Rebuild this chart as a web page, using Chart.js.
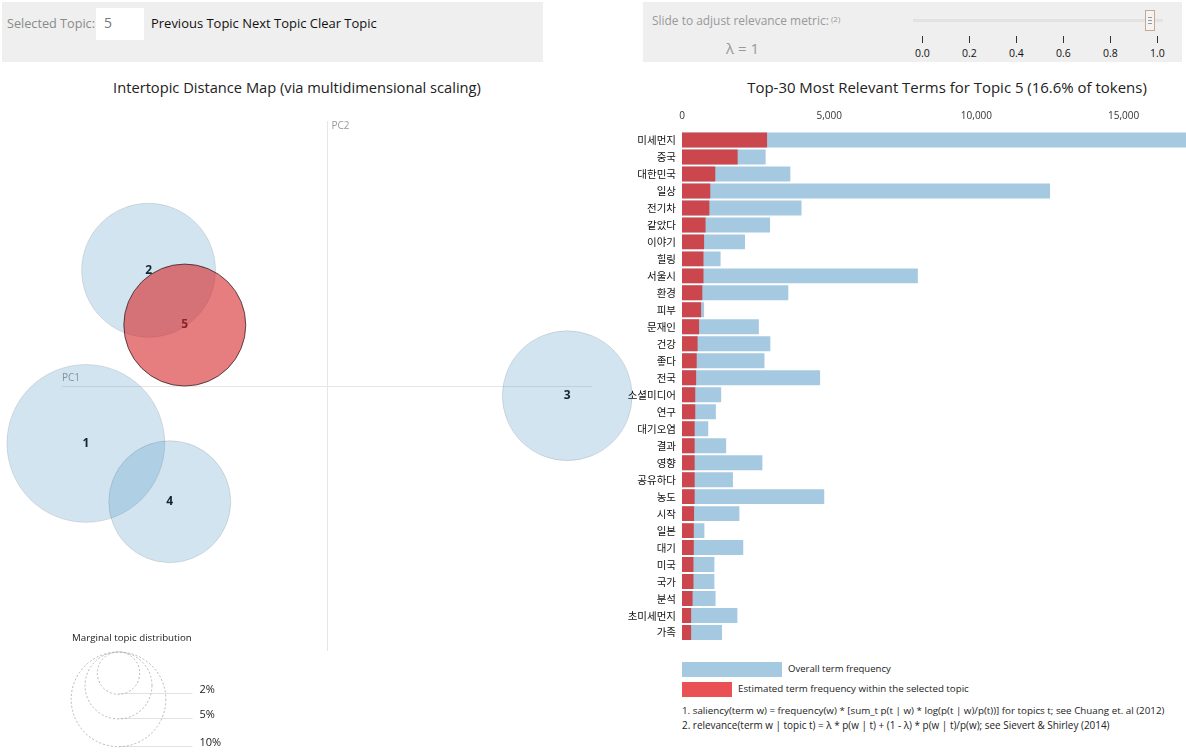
<!DOCTYPE html>
<html>
<head>
<meta charset="utf-8">
<script src="https://cdn.jsdelivr.net/npm/chart.js@4/dist/chart.umd.min.js"></script>
<style>
html,body{margin:0;padding:0;width:1186px;height:752px;overflow:hidden;background:#fff;
  font-family:"Open Sans","Noto Sans CJK KR",sans-serif;}
.abs{position:absolute;white-space:nowrap;}
.panel{background:#efefef;}
.fit{line-height:1;}
</style>
</head>
<body>
<!-- left control panel -->
<div class="abs panel" style="left:2px;top:2px;width:541px;height:60px;"></div>
<div class="abs fit" data-w="88" style="left:7px;top:17px;font-size:13px;color:#8a8a8a;">Selected Topic:</div>
<div class="abs" style="left:96px;top:8px;width:48px;height:32px;background:#fff;"></div>
<div class="abs fit" style="left:104px;top:16px;font-size:14px;color:#777;">5</div>
<div class="abs fit" data-w="226" style="left:151px;top:17px;font-size:13px;color:#111;">Previous Topic Next Topic Clear Topic</div>

<!-- right control panel -->
<div class="abs panel" style="left:643px;top:2px;width:539px;height:60px;"></div>
<div class="abs fit" data-w="177" style="left:652px;top:15px;font-size:13px;color:#999;">Slide to adjust relevance metric:</div>
<div class="abs fit" style="left:831px;top:15px;font-size:8px;color:#999;">(2)</div>
<div class="abs fit" data-w="33" style="left:726px;top:41px;font-size:13px;color:#999;">λ = 1</div>
<div class="abs" style="left:913px;top:19px;width:250px;height:3px;background:#e2e2e2;"></div>
<div class="abs" style="left:1145px;top:10px;width:10px;height:21px;background:#f4f4f4;border:1px solid #c9a98c;box-sizing:border-box;"></div>
<div class="abs" style="left:1148px;top:17px;width:4px;height:1px;background:#999;"></div>
<div class="abs" style="left:1148px;top:20px;width:4px;height:1px;background:#999;"></div>
<div class="abs" style="left:1148px;top:23px;width:4px;height:1px;background:#999;"></div>
<div id="sliderTicks"></div>

<!-- titles -->
<div class="abs fit" id="tLeft" data-w="368" style="top:80px;font-size:15px;color:#222;">Intertopic Distance Map (via multidimensional scaling)</div>
<div class="abs fit" id="tRight" data-w="400" style="top:80px;font-size:15px;color:#222;"></div>

<!-- charts -->
<div class="abs" style="left:0;top:100px;width:680px;height:652px;"><canvas id="mds" width="680" height="652"></canvas></div>
<div class="abs" style="left:596px;top:100px;width:616px;height:541px;"><canvas id="bars" width="616" height="541"></canvas></div>

<div class="abs fit" data-w="120" style="left:72px;top:633px;font-size:11px;color:#222;">Marginal topic distribution</div>

<!-- bar legend -->
<div class="abs" style="left:682px;top:662px;width:100px;height:15px;background:rgba(31,119,180,0.4);"></div>
<div class="abs" style="left:682px;top:682px;width:50px;height:15px;background:rgba(230,50,55,0.85);"></div>
<div class="abs fit" data-w="103" style="left:788px;top:664px;font-size:11px;color:#222;">Overall term frequency</div>
<div class="abs fit" data-w="231" style="left:738px;top:684px;font-size:11px;color:#222;">Estimated term frequency within the selected topic</div>
<div class="abs fit" data-w="483" style="left:682px;top:706px;font-size:10px;color:#222;">1. saliency(term w) = frequency(w) * [sum_t p(t | w) * log(p(t | w)/p(t))] for topics t; see Chuang et. al (2012)</div>
<div class="abs fit" data-w="428" style="left:682px;top:721px;font-size:10px;color:#222;">2. relevance(term w | topic t) = λ * p(w | t) + (1 - λ) * p(w | t)/p(w); see Sievert &amp; Shirley (2014)</div>

<script>
// ---------------- data ----------------
const topicIds = ['1', '2', '3', '4', '5'];
const topicPC1 = [-0.273, -0.202, 0.272, -0.178, -0.161];
const topicPC2 = [-0.065, 0.131, -0.011, -0.131, 0.069];
const topicPct = [27.8, 20.0, 18.8, 16.6, 16.6];
const selectedTopic = '5';
const legendPcts = [2, 5, 10];
const lambdaTicks = ['0.0', '0.2', '0.4', '0.6', '0.8', '1.0'];

const terms = ['미세먼지','중국','대한민국','일상','전기차','같았다','이야기','힐링','서울시','환경',
  '피부','문재인','건강','좋다','전국','소셜미디어','연구','대기오염','결과','영향',
  '공유하다','농도','시작','일본','대기','미국','국가','분석','초미세먼지','가족'];
const overallFreq = [18000, 2840, 3680, 12500, 4060, 2990, 2140, 1310, 8010, 3610,
  750, 2610, 3000, 2800, 4690, 1330, 1150, 890, 1500, 2730,
  1730, 4830, 1950, 760, 2080, 1100, 1100, 1140, 1880, 1360];
const topicFreq = [2890, 1890, 1130, 960, 930, 800, 750, 730, 730, 690,
  650, 580, 530, 500, 480, 450, 450, 430, 430, 430,
  430, 430, 410, 400, 400, 390, 390, 360, 310, 310];
const freqTicks = [0, 5000, 10000, 15000];

// ---------------- text ----------------
document.getElementById('tRight').textContent =
  'Top-30 Most Relevant Terms for Topic ' + selectedTopic + ' (' + topicPct[topicIds.indexOf(selectedTopic)].toFixed(1) + '% of tokens)';

// slider ticks
(function(){
  const host = document.getElementById('sliderTicks');
  lambdaTicks.forEach((t, i) => {
    const x = 922 + i * 47;
    const l = document.createElement('div');
    l.className = 'abs';
    l.style.cssText = `left:${x}px;top:36px;width:1px;height:7px;background:#333;`;
    host.appendChild(l);
    const s = document.createElement('div');
    s.className = 'abs fit';
    s.textContent = t;
    s.style.cssText = `left:${x - 10}px;top:48px;width:21px;text-align:center;font-size:10.5px;color:#111;`;
    host.appendChild(s);
  });
})();

// fit text widths
document.querySelectorAll('[data-w]').forEach(el => {
  const target = +el.dataset.w;
  const w = el.getBoundingClientRect().width;
  const fs = parseFloat(getComputedStyle(el).fontSize);
  if (w > 0) el.style.fontSize = (fs * target / w) + 'px';
});
(function(){
  const a = document.getElementById('tLeft');
  a.style.left = (297 - a.getBoundingClientRect().width / 2) + 'px';
  const b = document.getElementById('tRight');
  b.style.left = (947 - b.getBoundingClientRect().width / 2) + 'px';
})();

// ---------------- MDS chart ----------------
const K = 14.97; // radius scale: px per sqrt(percent)
const blueFill = 'rgba(31,119,180,0.2)';
const redFill = 'rgba(214,39,40,0.6)';

const mdsPlugin = {
  id: 'mdsDeco',
  beforeDatasetsDraw(chart) {
    const {ctx, scales: {x, y}, chartArea} = chart;
    ctx.save();
    ctx.strokeStyle = '#e6e6e6';
    ctx.lineWidth = 1;
    const y0 = Math.round(y.getPixelForValue(0)) + 0.5;
    const x0 = Math.round(x.getPixelForValue(0)) + 0.5;
    ctx.beginPath();
    ctx.moveTo(chartArea.left, y0); ctx.lineTo(chartArea.right, y0);
    ctx.moveTo(x0, chartArea.top); ctx.lineTo(x0, chartArea.bottom);
    ctx.stroke();
    ctx.fillStyle = '#999';
    ctx.font = '10px "Open Sans"';
    ctx.textBaseline = 'bottom';
    ctx.textAlign = 'left';
    ctx.fillText('PC1', chartArea.left, y0 - 3);
    ctx.textBaseline = 'top';
    ctx.fillText('PC2', x0 + 4, chartArea.top);
    // topic labels (under the circles)
    const meta = chart.getDatasetMeta(0);
    ctx.fillStyle = '#111';
    ctx.font = 'bold 12px "Open Sans"';
    ctx.textAlign = 'center';
    ctx.textBaseline = 'middle';
    meta.data.forEach((pt, i) => ctx.fillText(topicIds[i], pt.x, pt.y));
    ctx.restore();
  },
  afterDraw(chart) {
    const {ctx, chartArea} = chart;
    const cx = 118.5, top = chartArea.bottom + 1;
    ctx.save();
    legendPcts.forEach(p => {
      const r = K * Math.sqrt(p);
      const bottom = top + 2 * r;
      ctx.strokeStyle = '#e2e2e2';
      ctx.setLineDash([]);
      ctx.beginPath();
      ctx.moveTo(cx, Math.round(bottom) - 0.5); ctx.lineTo(cx + 74, Math.round(bottom) - 0.5);
      ctx.stroke();
      ctx.strokeStyle = '#b5b5b5';
      ctx.setLineDash([2, 2]);
      ctx.beginPath();
      ctx.arc(cx, top + r, r, 0, Math.PI * 2);
      ctx.stroke();
      ctx.fillStyle = '#222';
      ctx.font = '11px "Open Sans"';
      ctx.textAlign = 'left';
      ctx.textBaseline = 'middle';
      ctx.fillText(p + '%', cx + 81, bottom - 4);
    });
    ctx.restore();
  }
};

new Chart(document.getElementById('mds'), {
  type: 'bubble',
  data: {
    datasets: [{
      data: topicPC1.map((v, i) => ({x: v, y: topicPC2[i], r: K * Math.sqrt(topicPct[i])})),
      backgroundColor: ctx => topicIds[ctx.dataIndex] === selectedTopic ? redFill : blueFill,
      borderColor: ctx => topicIds[ctx.dataIndex] === selectedTopic ? 'rgba(0,0,0,0.6)' : 'rgba(0,0,0,0.1)',
      borderWidth: 1,
      clip: false
    }]
  },
  options: {
    responsive: false,
    animation: false,
    events: [],
    layout: {autoPadding: false, padding: {left: 62, right: 88, top: 21, bottom: 101}},
    plugins: {legend: {display: false}, tooltip: {enabled: false}},
    scales: {
      x: {display: false, min: -0.3, max: 0.3},
      y: {display: false, min: -0.3, max: 0.3}
    }
  },
  plugins: [mdsPlugin]
});

// ---------------- bar chart ----------------
new Chart(document.getElementById('bars'), {
  type: 'bar',
  data: {
    labels: terms,
    datasets: [
      {data: topicFreq, backgroundColor: 'rgba(214,39,40,0.8)', grouped: false,
       categoryPercentage: 1, barPercentage: 0.88},
      {data: overallFreq, backgroundColor: 'rgba(31,119,180,0.4)', grouped: false,
       categoryPercentage: 1, barPercentage: 0.88}
    ]
  },
  options: {
    indexAxis: 'y',
    responsive: false,
    animation: false,
    events: [],
    layout: {autoPadding: false, padding: 0},
    plugins: {legend: {display: false}, tooltip: {enabled: false}},
    scales: {
      x: {
        position: 'top', min: 0, max: 18000,
        grid: {display: false, drawTicks: false},
        border: {display: false},
        afterBuildTicks: s => { s.ticks = freqTicks.map(v => ({value: v})); },
        ticks: {
          padding: 9, autoSkip: false, maxRotation: 0,
          color: '#333', font: {family: '"Open Sans"', size: 10},
          callback: v => Number(v).toLocaleString('en-US')
        },
        afterFit: s => { s.height = 31.5; s.paddingLeft = 0; s.paddingRight = 0; }
      },
      y: {
        grid: {display: false, drawTicks: false},
        border: {display: false},
        ticks: {padding: 6, color: '#111', autoSkip: false,
          font: {family: '"Noto Sans CJK KR"', size: 10.5}},
        afterFit: s => { s.width = 86; s.paddingTop = 0; s.paddingBottom = 0; }
      }
    }
  }
});
</script>
</body>
</html>
